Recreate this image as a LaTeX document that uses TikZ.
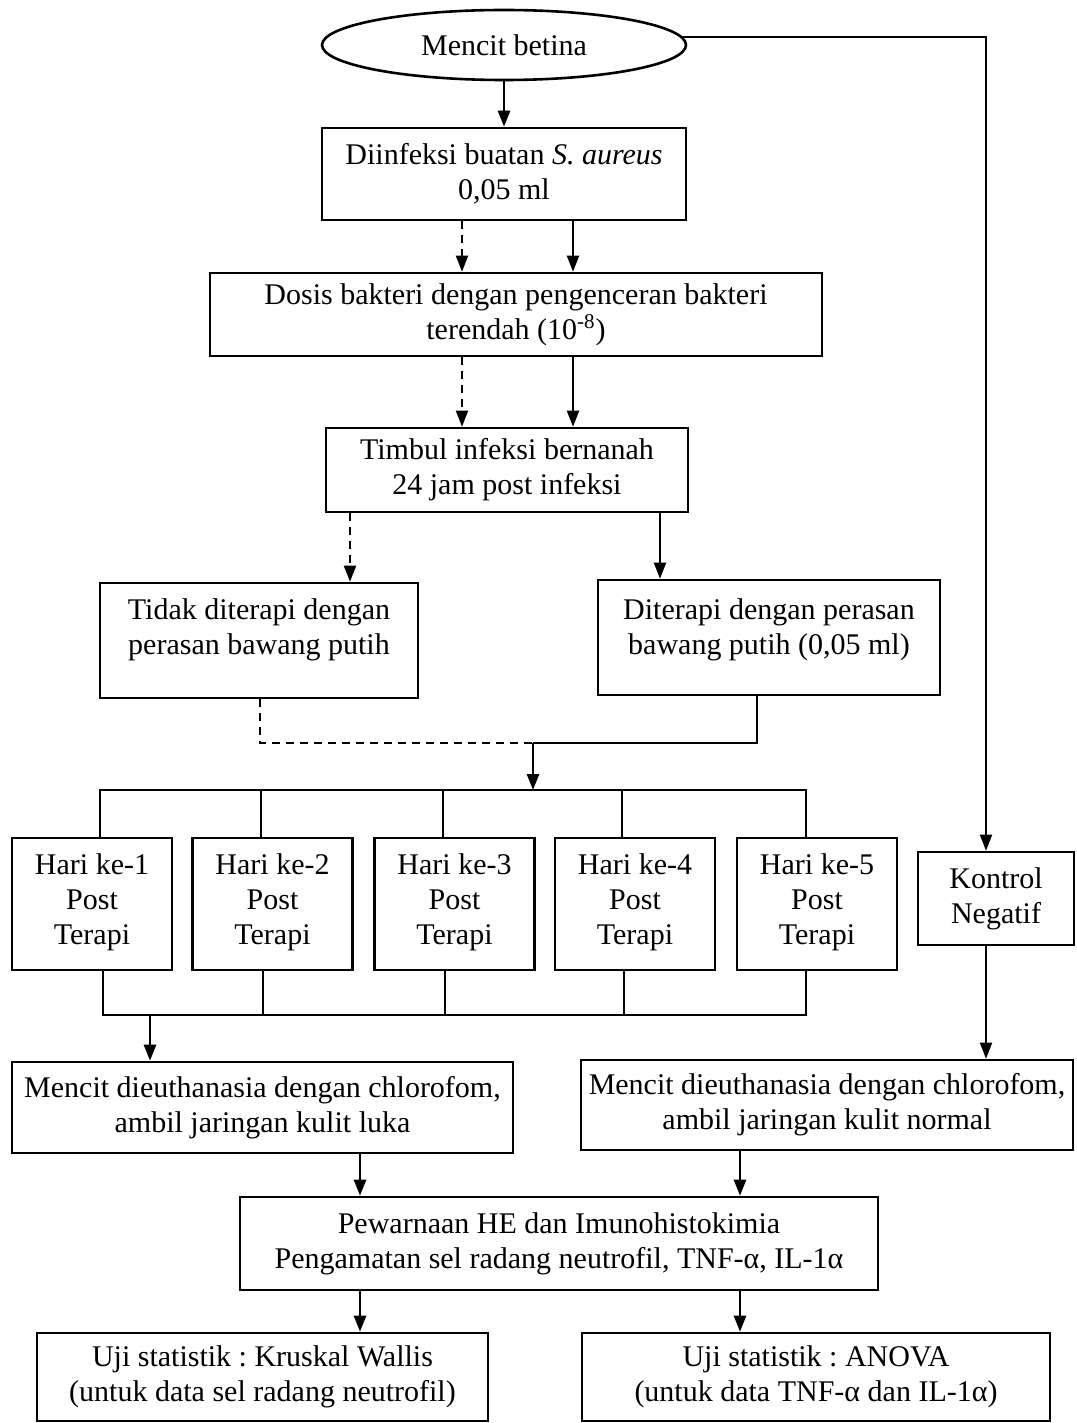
\documentclass[tikz,border=0pt]{standalone}
\usepackage{fontspec}
\setmainfont{Liberation Serif}
\usetikzlibrary{shapes.geometric,arrows.meta}
\frenchspacing
\begin{document}
\begin{tikzpicture}[x=0.5pt,y=-0.5pt,
  txt/.style={font=\fontsize{15pt}{17.5pt}\selectfont, align=center, inner sep=0pt},
  box/.style={txt, draw, line width=1.3pt},
  con/.style={line width=1pt},
  arr/.style={con, -{Triangle[width=6pt,length=8pt]}},
  dsh/.style={dash pattern=on 4pt off 3pt}]
\useasboundingbox (0,0) rectangle (1076,1423);
\fill[white] (0,0) rectangle (1076,1423);

% nodes
\node[txt, draw, ellipse, line width=1.3pt, minimum width=182pt, minimum height=35pt] (e) at (504,45) {Mencit betina};
\node[box, minimum width=182pt, minimum height=46pt] (b1) at (504,174) {Diinfeksi buatan \textit{S. aureus}\\0,05 ml};
\node[box, minimum width=306pt, minimum height=41.5pt] (b2) at (516,314.5) {Dosis bakteri dengan pengenceran bakteri\\terendah (10\textsuperscript{-8})};
\node[box, minimum width=181pt, minimum height=42pt] (b3) at (507,470) {Timbul infeksi bernanah\\24 jam post infeksi};
\node[box, minimum width=159pt, minimum height=57.5pt] (b4) at (259,640.5) {};
\node[txt] (t4) at (259,630) {Tidak diterapi dengan\\perasan bawang putih};
\node[box, minimum width=171pt, minimum height=57.5pt] (b5) at (769,637.5) {};
\node[txt] (t5) at (769,630) {Diterapi dengan perasan\\bawang putih (0,05 ml)};
\foreach \i/\x in {1/92,2/272.5,3/454.5,4/635,5/817}
  \node[box, minimum width=80pt, minimum height=66pt, text depth=5pt] (h\i) at (\x,904) {Hari ke-\i\\Post\\Terapi};
\node[box, minimum width=78pt, minimum height=46.5pt] (kn) at (996,898.5) {Kontrol\\Negatif};
\node[box, minimum width=250.5pt, minimum height=45.5pt] (b6) at (262.5,1107.5) {Mencit dieuthanasia dengan chlorofom,\\ambil jaringan kulit luka};
\node[box, minimum width=246pt, minimum height=45pt] (b7) at (827,1105) {Mencit dieuthanasia dengan chlorofom,\\ambil jaringan kulit normal};
\node[box, minimum width=319pt, minimum height=46.5pt] (b8) at (559,1243.5) {Pewarnaan HE dan Imunohistokimia\\Pengamatan sel radang neutrofil, TNF-α, IL-1α};
\node[box, minimum width=225.5pt, minimum height=44pt] (b9) at (262.5,1377) {Uji statistik : Kruskal Wallis\\(untuk data sel radang neutrofil)};
\node[box, minimum width=234pt, minimum height=44pt] (b10) at (816,1377) {Uji statistik : ANOVA\\(untuk data TNF-α dan IL-1α)};

% connectors
\draw[arr, line width=1.3pt] (e.south) -- (b1.north);
\draw[arr] ([shift={(-2.5pt,4pt)}]e.east) -| ([xshift=-5pt]kn.north);
\draw[arr,dsh] (462,0 |- b1.south) -- (462,0 |- b2.north);
\draw[arr] (573,0 |- b1.south) -- (573,0 |- b2.north);
\draw[arr,dsh] (462,0 |- b2.south) -- (462,0 |- b3.north);
\draw[arr] (573,0 |- b2.south) -- (573,0 |- b3.north);
\draw[arr,dsh] (350,0 |- b3.south) -- (350,0 |- b4.north);
\draw[arr] (660,0 |- b3.south) -- (660,0 |- b5.north);
\coordinate (m) at (533,743);
\coordinate (tb) at (533,790);
\draw[con,dsh] (260,0 |- b4.south) |- (m);
\draw[con] (757,0 |- b5.south) |- (m);
\draw[arr, line width=1.3pt] (m) -- (tb);
\draw[con] (100,0 |- h1.north) |- (tb) -| (806,0 |- h5.north);
\foreach \x/\n in {261/2,443/3,622/4}
  \draw[con] (\x,0 |- tb) -- (\x,0 |- h\n.north);
\coordinate (bb) at (150,1015);
\draw[con] (103,0 |- h1.south) |- (806,0 |- bb) -- (806,0 |- h5.south);
\foreach \x/\n in {263/2,445/3,624/4}
  \draw[con] (\x,0 |- h\n.south) -- (\x,0 |- bb);
\draw[arr, line width=1.3pt] (bb) -- (150,0 |- b6.north);
\draw[arr] ([xshift=-5pt]kn.south) -- ([xshift=-5pt]kn.south |- b7.north);
\draw[arr, line width=1.3pt] (360,0 |- b6.south) -- (360,0 |- b8.north);
\draw[arr, line width=1.3pt] (740,0 |- b7.south) -- (740,0 |- b8.north);
\draw[arr, line width=1.3pt] (360,0 |- b8.south) -- (360,0 |- b9.north);
\draw[arr, line width=1.3pt] (740,0 |- b8.south) -- (740,0 |- b10.north);
\end{tikzpicture}
\end{document}
